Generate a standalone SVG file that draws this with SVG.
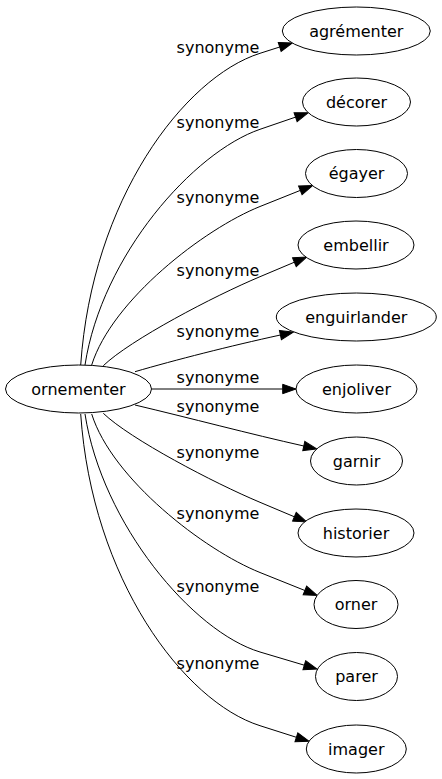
<svg xmlns="http://www.w3.org/2000/svg" width="442" height="779" viewBox="0 0 442 779">
<defs>
<marker id="arr" markerUnits="userSpaceOnUse" markerWidth="16" markerHeight="12" refX="0" refY="0" viewBox="0 -6 16 12" orient="auto" overflow="visible">
<path d="M0,-4.7 L13.3,0 L0,4.7 Z" fill="#000" stroke="#000" stroke-width="1"/>
</marker>
<style>
.n ellipse{fill:#fff;stroke:#000;stroke-width:1}
.n text,.lbl{font-family:"DejaVu Sans","Liberation Sans",sans-serif;font-size:16px;fill:#000;text-anchor:middle}
.e path{fill:none;stroke:#000;stroke-width:1;marker-end:url(#arr)}
</style>
</defs>
<rect width="442" height="779" fill="#fff"/>
<g id="edges" class="e">
<path d="M80.7,365 C92,200 183.8,77.5 260,53.3 L279.7,47"/>
<path d="M85,365 C102,255 193.8,152 260,129.3 L295.6,117.1"/>
<path d="M91.7,365 C112,300 204.3,228.8 260,206.5 L300.3,190.4"/>
<path d="M103.3,365.7 C130,340 213.9,296 260,276.7 L294.4,262.2"/>
<path d="M135,371.7 C175,360 230,346 280.4,335"/>
<path d="M151.5,389 L282.7,389"/>
<path d="M135,405 C190,418 250,434 303.8,446"/>
<path d="M103.3,413.3 C130,439 213.9,483 260,502.3 L294.4,516.8"/>
<path d="M91.7,414 C112,479 204.3,550.2 260,572.5 L304.9,590.5"/>
<path d="M85,414 C102,524 192.9,632 260,652 L304.3,665.2"/>
<path d="M80.7,414 C92,579 183.8,701.5 260,725.7 L296.4,737.3"/>
</g>
<g id="labels">
<text class="lbl" x="218" y="52.5">synonyme</text>
<text class="lbl" x="218" y="128.3">synonyme</text>
<text class="lbl" x="218" y="203.3">synonyme</text>
<text class="lbl" x="218" y="276">synonyme</text>
<text class="lbl" x="218" y="336.7">synonyme</text>
<text class="lbl" x="218" y="383">synonyme</text>
<text class="lbl" x="218" y="411.5">synonyme</text>
<text class="lbl" x="218" y="458.3">synonyme</text>
<text class="lbl" x="218" y="519.3">synonyme</text>
<text class="lbl" x="218" y="591.7">synonyme</text>
<text class="lbl" x="218" y="669">synonyme</text>
</g>
<g id="ornementer" class="n"><ellipse cx="78.5" cy="389" rx="73" ry="24"/><text x="78.5" y="394.5">ornementer</text></g>
<g id="agrementer" class="n"><ellipse cx="356.3" cy="31" rx="74" ry="24"/><text x="356.3" y="36.5">agrémenter</text></g>
<g id="decorer" class="n"><ellipse cx="356.5" cy="102" rx="54" ry="24"/><text x="356.5" y="107.5">décorer</text></g>
<g id="egayer" class="n"><ellipse cx="356.5" cy="173.5" rx="51" ry="24"/><text x="356.5" y="179">égayer</text></g>
<g id="embellir" class="n"><ellipse cx="356" cy="245" rx="58" ry="24"/><text x="356" y="250.5">embellir</text></g>
<g id="enguirlander" class="n"><ellipse cx="356.3" cy="317" rx="80" ry="24"/><text x="356.3" y="322.5">enguirlander</text></g>
<g id="enjoliver" class="n"><ellipse cx="356.5" cy="389" rx="60.5" ry="24"/><text x="356.5" y="394.5">enjoliver</text></g>
<g id="garnir" class="n"><ellipse cx="356.5" cy="461" rx="46" ry="24"/><text x="356.5" y="466.5">garnir</text></g>
<g id="historier" class="n"><ellipse cx="356" cy="533" rx="58" ry="24"/><text x="356" y="538.5">historier</text></g>
<g id="orner" class="n"><ellipse cx="356" cy="604.5" rx="42" ry="24"/><text x="356" y="610">orner</text></g>
<g id="parer" class="n"><ellipse cx="356.5" cy="676.5" rx="41" ry="24"/><text x="356.5" y="682">parer</text></g>
<g id="imager" class="n"><ellipse cx="356.3" cy="749" rx="50" ry="24"/><text x="356.3" y="754.5">imager</text></g>
</svg>
